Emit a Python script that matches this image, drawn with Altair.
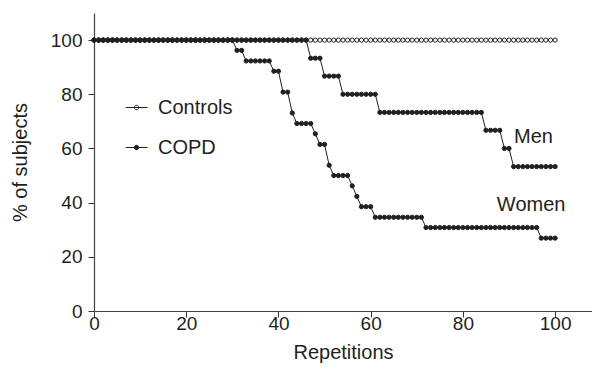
import altair as alt
import pandas as pd

# ---- data ----
repetitions = list(range(0, 101))
controls_pct = [100.0] * 101

# COPD men (step levels and how many consecutive repetitions stay at each level)
men_levels = [100.0, 93.3, 86.7, 80.0, 73.3, 66.7, 60.0, 53.3]
men_run_lengths = [47, 3, 4, 8, 23, 4, 2, 10]

# COPD women
women_levels = [100.0, 96.2, 92.3, 88.5, 80.8, 73.1, 69.2, 65.4, 61.5,
                53.8, 50.0, 46.2, 42.3, 38.5, 34.6, 30.8, 26.9]
women_run_lengths = [31, 2, 6, 2, 2, 1, 4, 1, 2, 1, 4, 1, 1, 3, 11, 25, 4]

label_text = ["Men", "Women"]
label_x = [95.3, 94.8]
label_y = [64.2, 39.1]

x_ticks = [0, 20, 40, 60, 80, 100]
y_ticks = [0, 20, 40, 60, 80, 100]


def expand(levels, runs):
    out = []
    for lv, n in zip(levels, runs):
        out.extend([lv] * n)
    return out


men_pct = expand(men_levels, men_run_lengths)
women_pct = expand(women_levels, women_run_lengths)

rows = []
for r, v in zip(repetitions, controls_pct):
    rows.append({"series": "Controls", "group": "Controls", "rep": r, "pct": v})
for r, v in zip(repetitions, men_pct):
    rows.append({"series": "Men", "group": "COPD", "rep": r, "pct": v})
for r, v in zip(repetitions, women_pct):
    rows.append({"series": "Women", "group": "COPD", "rep": r, "pct": v})
df = pd.DataFrame(rows)

labels_df = pd.DataFrame({"text": label_text, "x": label_x, "y": label_y})

FONT = "Liberation Sans"
INK = "#231f20"
X_MAX = 108

x_enc = alt.X(
    "rep:Q",
    scale=alt.Scale(domain=[0, X_MAX], nice=False, zero=False),
    axis=alt.Axis(
        title="Repetitions",
        values=x_ticks,
        labelFlush=False,
        grid=False,
        tickSize=6,
        labelPadding=-3,
        titlePadding=9,
        labelFontSize=19,
        titleFontSize=20,
    ),
)
y_enc = alt.Y(
    "pct:Q",
    scale=alt.Scale(domain=[0, 110], nice=False),
    axis=alt.Axis(
        title="% of subjects",
        values=y_ticks,
        labelFlush=False,
        grid=False,
        tickSize=6,
        labelPadding=6,
        titlePadding=20,
        labelFontSize=19,
        titleFontSize=20,
    ),
)

lines = alt.Chart(df).mark_line(color=INK, strokeWidth=1).encode(
    x=x_enc, y=y_enc, detail="series:N", order="rep:Q"
)

legend_symbol = "M-1,0H1M-0.2,0A0.2,0.2,0,1,1,0.2,0A0.2,0.2,0,1,1,-0.2,0Z"

points = alt.Chart(df).mark_circle(
    size=18, stroke=INK, strokeWidth=1, opacity=1
).encode(
    x=x_enc,
    y=y_enc,
    fill=alt.Fill(
        "group:N",
        scale=alt.Scale(domain=["Controls", "COPD"], range=["white", INK]),
        legend=alt.Legend(
            title=None,
            orient="none",
            legendX=31,
            legendY=83,
            symbolType=legend_symbol,
            symbolSize=484,
            symbolStrokeColor=INK,
            symbolStrokeWidth=1,
            symbolOpacity=1,
            labelFontSize=20,
            labelFont=FONT,
            labelColor=INK,
            labelOffset=10,
            rowPadding=18,
        ),
    ),
)

texts = alt.Chart(labels_df).mark_text(
    font=FONT, fontSize=20, color=INK, align="center", baseline="middle"
).encode(
    x=alt.X("x:Q", scale=alt.Scale(domain=[0, X_MAX], nice=False)),
    y=alt.Y("y:Q", scale=alt.Scale(domain=[0, 110], nice=False)),
    text="text:N",
)

chart = (
    alt.layer(lines, points, texts)
    .properties(
        width=498,
        height=298,
        autosize=alt.AutoSizeParams(type="none"),
        padding={"left": 86, "top": 5, "right": 0, "bottom": 55},
        background="white",
    )
    .configure_view(stroke=None)
    .configure_axis(
        labelFont=FONT,
        titleFont=FONT,
        labelColor=INK,
        titleColor=INK,
        titleFontWeight="normal",
        domainColor="#444444",
        tickColor="#333333",
        domainWidth=1.2,
    )
)

chart.save("out.html", embed_options={"renderer": "svg", "actions": False})
